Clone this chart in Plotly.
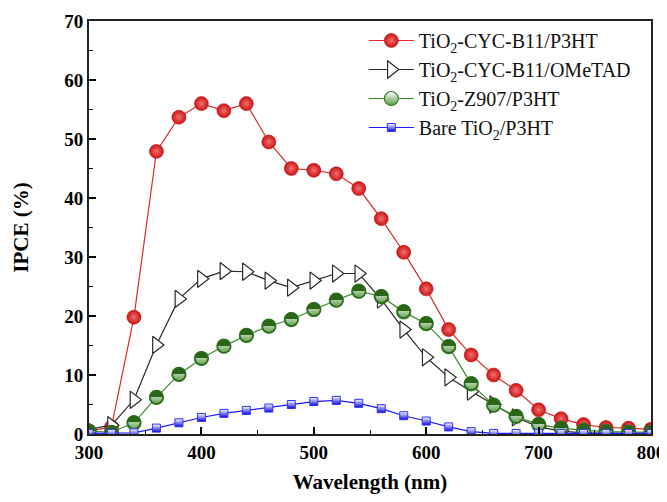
import plotly.graph_objects as go

wavelength = [300, 320, 340, 360, 380, 400, 420, 440, 460, 480, 500, 520, 540,
              560, 580, 600, 620, 640, 660, 680, 700, 720, 740, 760, 780, 800]

cyc_p3ht = [0.5, 1.2, 19.8, 47.9, 53.7, 56.0, 54.8, 56.0, 49.5, 45.0, 44.7, 44.1, 41.6,
            36.5, 30.8, 24.6, 17.7, 13.4, 10.0, 7.4, 4.1, 2.6, 1.6, 1.1, 1.0, 0.8]

cyc_ometad = [0.8, 1.5, 5.8, 15.1, 22.9, 26.3, 27.6, 27.5, 26.0, 24.8, 26.0, 27.2, 27.2,
              22.8, 17.7, 13.0, 9.6, 7.2, 5.0, 2.8, 1.2, 0.5, 0.2, 0.1, 0.1, 0.1]

z907_p3ht = [0.5, 0.3, 1.9, 6.2, 10.1, 12.8, 14.9, 16.7, 18.3, 19.4, 21.1, 22.7, 24.2,
             23.3, 20.7, 18.7, 14.8, 8.5, 4.9, 3.0, 1.6, 1.0, 0.6, 0.4, 0.3, 0.3]

bare_p3ht = [0.1, 0.1, 0.2, 1.0, 1.9, 2.8, 3.5, 4.0, 4.4, 5.0, 5.5, 5.7, 5.2,
             4.3, 3.1, 2.2, 1.2, 0.4, 0.1, 0.1, 0.1, 0.1, 0.1, 0.1, 0.1, 0.1]

names = ["TiO<sub>2</sub>-CYC-B11/P3HT", "TiO<sub>2</sub>-CYC-B11/OMeTAD",
         "TiO<sub>2</sub>-Z907/P3HT", "Bare TiO<sub>2</sub>/P3HT"]

x_ticks = [300, 400, 500, 600, 700, 800]
y_ticks = [0, 10, 20, 30, 40, 50, 60, 70]

fig = go.Figure()

fig.add_trace(go.Scatter(
    x=wavelength, y=cyc_p3ht, name=names[0], mode="lines+markers",
    line=dict(color="#e02828", width=1.2),
    marker=dict(symbol="circle", size=14, color="#cc1414",
                line=dict(color="#c01010", width=0.6),
                gradient=dict(type="radial", color="#f07070")),
))
fig.add_trace(go.Scatter(
    x=wavelength, y=cyc_ometad, name=names[1], mode="lines+markers",
    line=dict(color="#2a2a2a", width=1.2),
    marker=dict(symbol="triangle-right", size=15, color="white",
                line=dict(color="#2a2a2a", width=1.2)),
))
fig.add_trace(go.Scatter(
    x=wavelength, y=z907_p3ht, name=names[2], mode="lines+markers",
    line=dict(color="#3a8a2a", width=1.2),
    marker=dict(symbol="circle", size=14, color="white",
                line=dict(color="#2f7a1f", width=1.2),
                gradient=dict(type="vertical", color="#5a9a48")),
))
# upper-half shading of the Z907 markers (half-filled circle glyph)
fig.add_trace(go.Scatter(
    x=wavelength, y=z907_p3ht, mode="text", text=["\u25d3"] * len(wavelength),
    textposition="middle center", showlegend=False, hoverinfo="skip",
    textfont=dict(family="DejaVu Sans", size=18, color="#2a6618"),
))
fig.add_trace(go.Scatter(
    x=wavelength, y=bare_p3ht, name=names[3], mode="lines+markers",
    line=dict(color="#1a1aff", width=1.2),
    marker=dict(symbol="square", size=8, color="white",
                line=dict(color="#3030ff", width=1),
                gradient=dict(type="vertical", color="#0a0ad8")),
))

axis_font = dict(family="Liberation Serif", size=21, color="black", weight="bold")
tick_font = dict(family="Liberation Serif", size=19, color="black", weight="bold")

fig.update_layout(
    width=659, height=486,
    margin=dict(l=81, r=16, t=13, b=60),
    paper_bgcolor="white", plot_bgcolor="white",
    font=dict(family="Liberation Serif", color="black"),
    showlegend=True,
    legend=dict(x=0.489, y=1.0, xanchor="left", yanchor="top",
                bgcolor="rgba(0,0,0,0)", borderwidth=0,
                font=dict(family="Liberation Serif", size=20, color="#111"),
                tracegroupgap=0, itemwidth=45),
    xaxis=dict(
        range=[300, 800], tickvals=x_ticks, automargin=False,
        ticklabeloverflow="allow",
        ticks="inside", ticklen=7, tickwidth=1.5, tickcolor="black",
        minor=dict(ticks="inside", ticklen=4, tickwidth=1.2, tickcolor="black", dtick=50, showgrid=False),
        showline=True, linecolor="#222", linewidth=2, mirror=True,
        showgrid=False, zeroline=False,
        tickfont=tick_font,
        title=dict(text="Wavelength (nm)", font=axis_font, standoff=19),
    ),
    yaxis=dict(
        range=[0, 70], tickvals=y_ticks, automargin=False,
        ticklabeloverflow="allow",
        ticks="inside", ticklen=7, tickwidth=1.5, tickcolor="black",
        minor=dict(ticks="inside", ticklen=4, tickwidth=1.2, tickcolor="black", dtick=5, showgrid=False),
        showline=True, linecolor="#222", linewidth=2, mirror=True,
        showgrid=False, zeroline=False,
        tickfont=tick_font,
        title=dict(text="IPCE (%)", font=axis_font, standoff=30),
    ),
)

fig.write_html("out.html")
